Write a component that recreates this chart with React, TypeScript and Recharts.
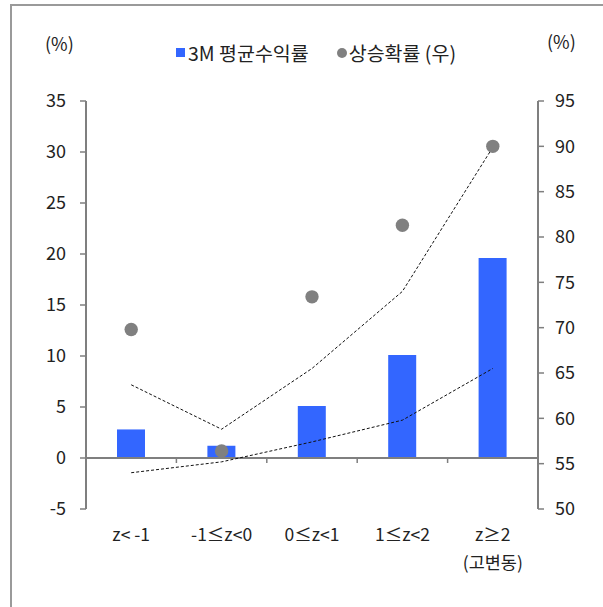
import { ComposedChart, Bar, Line, XAxis, YAxis, Legend, ReferenceLine } from 'recharts';

const FONT = '"Noto Sans CJK KR", "Noto Sans", sans-serif';

const categories = ['z< -1', '-1≤z<0', '0≤z<1', '1≤z<2', 'z≥2|(고변동)'];
const avgReturn = [2.8, 1.2, 5.1, 10.1, 19.6];
const upProb = [69.8, 56.4, 73.4, 81.3, 90.0];
const upperBand = [63.7, 58.8, 65.5, 74.0, 89.9];
const lowerBand = [54.0, 55.2, 57.4, 59.8, 65.5];
const leftTicks = [-5, 0, 5, 10, 15, 20, 25, 30, 35];
const rightTicks = [50, 55, 60, 65, 70, 75, 80, 85, 90, 95];

const data = categories.map((c, i) => ({
  name: c,
  ret: avgReturn[i],
  prob: upProb[i],
  upper: upperBand[i],
  lower: lowerBand[i],
}));

const AXIS = '#7f7f7f';
const TEXT = '#222';

function XTick({ x, y, payload }: any) {
  const lines = String(payload.value).split('|');
  return (
    <text x={x} y={y} textAnchor="middle" fill={TEXT} fontSize={17.5} fontFamily={FONT}>
      {lines.map((l, i) => (
        <tspan key={i} x={x} dy={i === 0 ? 32 : 28}>
          {l}
        </tspan>
      ))}
    </text>
  );
}

// zero line with small ticks at the category boundaries
function ZeroLine({ x1, y1, x2 }: any) {
  const n = categories.length;
  const step = (x2 - x1) / n;
  return (
    <g>
      <line x1={x1} y1={y1} x2={x2} y2={y1} stroke={AXIS} strokeWidth={2} />
      {Array.from({ length: n + 1 }, (_, i) => (
        <line key={i} x1={x1 + i * step} y1={y1} x2={x1 + i * step} y2={y1 + 5} stroke={AXIS} strokeWidth={1.5} />
      ))}
    </g>
  );
}

function LegendContent() {
  return (
    <div style={{ display: 'flex', alignItems: 'center', fontFamily: FONT, fontSize: 19.5, color: TEXT, marginLeft: 176 }}>
      <span style={{ width: 9, height: 9, background: '#3366ff', display: 'inline-block', marginRight: 3 }} />
      <span>3M 평균수익률</span>
      <span style={{ width: 10, height: 10, borderRadius: 5, background: '#808080', display: 'inline-block', marginLeft: 28, marginRight: 2 }} />
      <span>상승확률 (우)</span>
    </div>
  );
}

export default function App() {
  return (
    <div style={{ position: 'absolute', left: 0, top: 0, width: 603, height: 607, background: '#fff' }}>
      <div style={{ position: 'absolute', left: 10, top: 4, width: 600, height: 610, borderTop: '2px solid #9a9a9a', borderLeft: '2px solid #9a9a9a' }} />
      <div style={{ position: 'absolute', left: 45, top: 30, fontFamily: FONT, fontSize: 18, color: TEXT }}>(%)</div>
      <div style={{ position: 'absolute', left: 547, top: 28, fontFamily: FONT, fontSize: 18, color: TEXT }}>(%)</div>
      <ComposedChart
        width={603}
        height={607}
        data={data}
        margin={{ top: 101, right: 0, bottom: 0, left: 0 }}
        style={{ position: 'absolute', left: 0, top: 0 }}
      >
        <XAxis
          dataKey="name"
          axisLine={false}
          tickLine={false}
          tickSize={0}
          tickMargin={0}
          height={98}
          interval={0}
          tick={<XTick />}
        />
        <YAxis
          yAxisId="left"
          domain={[-5, 35]}
          ticks={leftTicks}
          width={86}
          axisLine={{ stroke: AXIS, strokeWidth: 2 }}
          tickLine={{ stroke: AXIS, strokeWidth: 1.5 }}
          tickSize={6}
          tickMargin={14}
          tick={{ fill: TEXT, fontSize: 18, fontFamily: FONT }}
        />
        <YAxis
          yAxisId="right"
          orientation="right"
          domain={[50, 95]}
          ticks={rightTicks}
          width={65}
          axisLine={{ stroke: AXIS, strokeWidth: 2 }}
          tickLine={{ stroke: AXIS, strokeWidth: 1.5 }}
          tickSize={6}
          tickMargin={11}
          tick={{ fill: TEXT, fontSize: 18, fontFamily: FONT }}
        />
        <Legend
          verticalAlign="middle"
          content={<LegendContent />}
          wrapperStyle={{ top: 38, left: 0, width: 603 }}
        />
        <Bar yAxisId="left" dataKey="ret" fill="#3366ff" barSize={28} isAnimationActive={false} />
        <ReferenceLine yAxisId="left" y={0} shape={<ZeroLine />} />
        <Line
          yAxisId="right"
          dataKey="upper"
          stroke="#111"
          strokeWidth={1}
          strokeDasharray="3 2"
          dot={false}
          activeDot={false}
          isAnimationActive={false}
        />
        <Line
          yAxisId="right"
          dataKey="lower"
          stroke="#111"
          strokeWidth={1}
          strokeDasharray="3 2"
          dot={false}
          activeDot={false}
          isAnimationActive={false}
        />
        <Line
          yAxisId="right"
          dataKey="prob"
          stroke="none"
          dot={{ r: 6.7, fill: '#808080', stroke: 'none' }}
          activeDot={false}
          isAnimationActive={false}
        />
      </ComposedChart>
    </div>
  );
}
